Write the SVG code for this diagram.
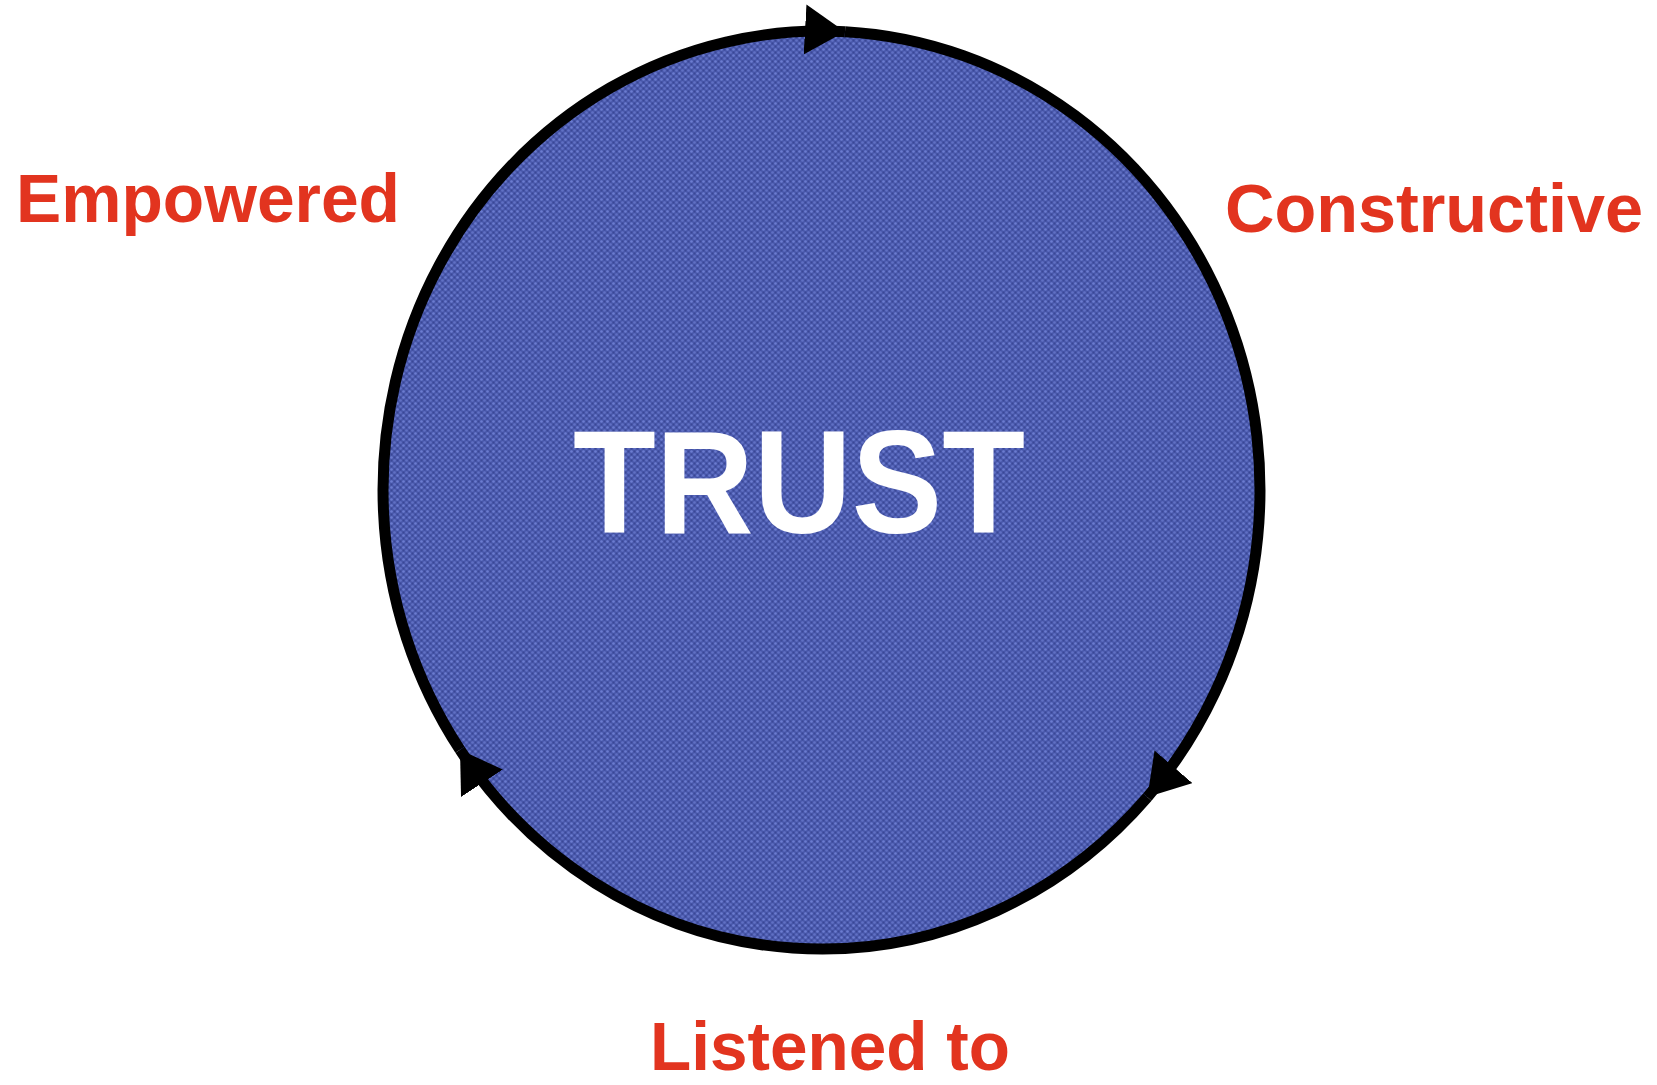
<svg xmlns="http://www.w3.org/2000/svg" width="1657" height="1085" viewBox="0 0 1657 1085">
<style>
.lbl{font-family:"Liberation Sans",Arial,sans-serif;font-weight:bold;font-size:68px;fill:#e2341f}
.center{font-family:"Liberation Sans",Arial,sans-serif;font-weight:bold;font-size:146px;fill:#ffffff}
.ring{fill:none;stroke:#000;stroke-width:11}
</style>
<defs>
<pattern id="weave" width="6" height="6" patternUnits="userSpaceOnUse">
<rect width="6" height="6" fill="#4857aa"/>
<circle cx="1.5" cy="1.5" r="1.3" fill="#6c7cd0"/>
<circle cx="4.5" cy="4.5" r="1.3" fill="#6070c4"/>
<circle cx="4.5" cy="1.5" r="0.9" fill="#3a4796"/>
<circle cx="1.5" cy="4.5" r="0.9" fill="#3a4796"/>
</pattern>
<marker id="arr" markerUnits="userSpaceOnUse" markerWidth="42" markerHeight="50" viewBox="0 0 42 50" refX="40" refY="25" orient="auto">
<path d="M0,0 L40,25 L0,50 z" fill="#000"/>
</marker>
</defs>
<g id="trust">
<ellipse cx="821.5" cy="490" rx="438.5" ry="459" fill="url(#weave)"/>
<text class="center" x="799" y="533" text-anchor="middle" textLength="452" lengthAdjust="spacingAndGlyphs">TRUST</text>
</g>
<g id="connectors">
<path class="ring" d="M460,749.8 A438.5,459 0 0 1 845,31.7" marker-end="url(#arr)"/>
<path class="ring" d="M845,31.7 A438.5,459 0 0 1 1147.4,797.1" marker-end="url(#arr)"/>
<path class="ring" d="M1147.4,797.1 A438.5,459 0 0 1 460,749.8" marker-end="url(#arr)"/>
</g>
<g id="empowered">
<text class="lbl" x="16" y="222" textLength="384" lengthAdjust="spacingAndGlyphs">Empowered</text>
</g>
<g id="constructive">
<text class="lbl" x="1225" y="232" textLength="418" lengthAdjust="spacingAndGlyphs">Constructive</text>
</g>
<g id="listened">
<text class="lbl" x="650" y="1070" textLength="360" lengthAdjust="spacingAndGlyphs">Listened to</text>
</g>
</svg>
